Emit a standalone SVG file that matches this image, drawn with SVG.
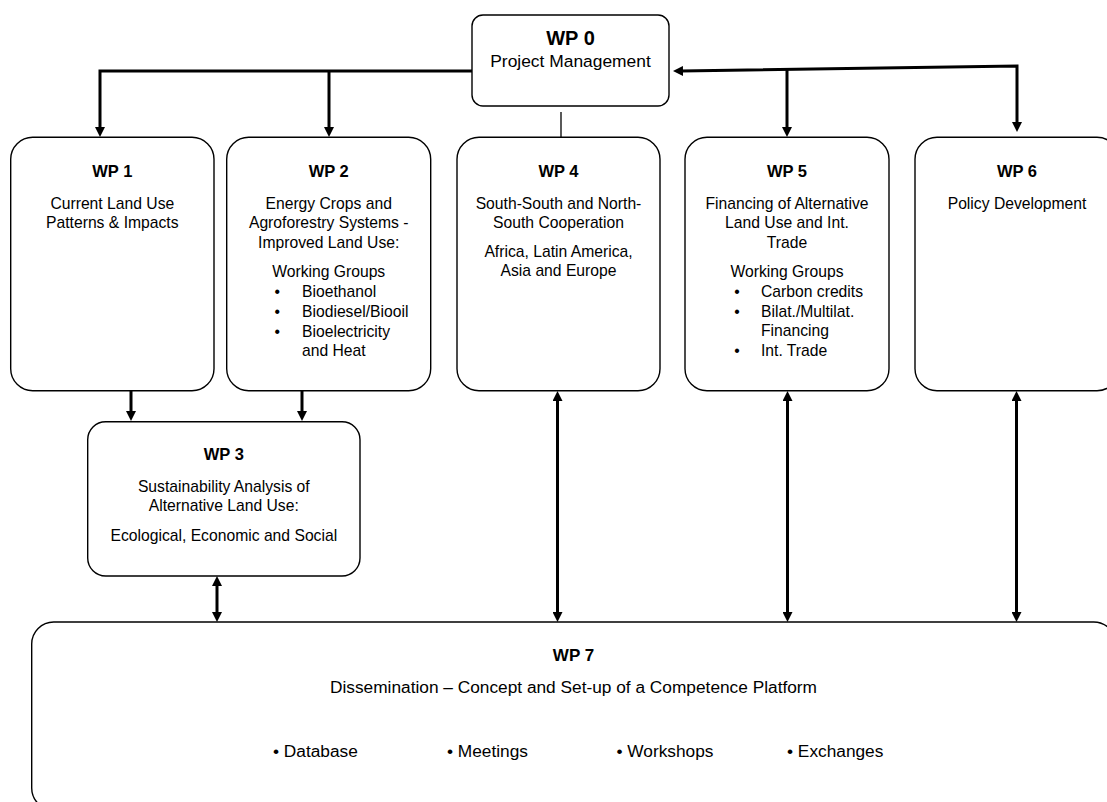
<svg xmlns="http://www.w3.org/2000/svg" width="1107" height="802" viewBox="0 0 1107 802">
<style>
.box{fill:#fff;stroke:#000;stroke-width:1.4}
text{font-family:"Liberation Sans",Arial,sans-serif;fill:#000}
.t{font-size:16.5px;font-weight:bold;text-anchor:middle}
.b{font-size:15.7px;text-anchor:middle}
.l{font-size:15.7px}
.c{fill:none;stroke:#000;stroke-width:3}
.thin{fill:none;stroke:#000;stroke-width:1.3}
</style>
<defs>
<marker id="ah" viewBox="0 0 10 10" refX="2" refY="5" markerWidth="10" markerHeight="10" markerUnits="userSpaceOnUse" orient="auto-start-reverse">
<path d="M0,0 L10,5 L0,10 z" fill="#000"/>
</marker>
</defs>
<rect width="1107" height="802" fill="#fff"/>
<g id="connectors">
<path class="c" d="M472,71 H100 V129" marker-end="url(#ah)"/>
<path class="c" d="M329,71 V129" marker-end="url(#ah)"/>
<path class="c" d="M681,71 L1017,66 V124" marker-start="url(#ah)" marker-end="url(#ah)"/>
<path class="c" d="M787,69.5 V129" marker-end="url(#ah)"/>
<path class="thin" d="M561,112 V137"/>
<path class="c" d="M131,391 V413" marker-end="url(#ah)"/>
<path class="c" d="M302,391 V413" marker-end="url(#ah)"/>
<path class="c" d="M217,584 V614" marker-start="url(#ah)" marker-end="url(#ah)"/>
<path class="c" d="M557.5,399 V614" marker-start="url(#ah)" marker-end="url(#ah)"/>
<path class="c" d="M787.5,399 V614" marker-start="url(#ah)" marker-end="url(#ah)"/>
<path class="c" d="M1016.5,399 V614" marker-start="url(#ah)" marker-end="url(#ah)"/>
</g>
<g id="wp0">
<rect class="box" x="472" y="15" width="197" height="91" rx="11"/>
<text x="570.5" y="45" style="font-size:20px;font-weight:bold;text-anchor:middle">WP 0</text>
<text x="570.5" y="66.7" style="font-size:17.4px;text-anchor:middle">Project Management</text>
</g>
<g id="wp1">
<rect class="box" x="10.7" y="137.3" width="203.3" height="253.4" rx="22"/>
<text class="t" x="112.3" y="177">WP 1</text>
<text class="b" x="112.3" y="209">Current Land Use</text>
<text class="b" x="112.3" y="228.3">Patterns &amp; Impacts</text>
</g>
<g id="wp2">
<rect class="box" x="226.7" y="137.3" width="204" height="253.4" rx="22"/>
<text class="t" x="328.7" y="177">WP 2</text>
<text class="b" x="328.7" y="209">Energy Crops and</text>
<text class="b" x="328.7" y="228.3">Agroforestry Systems -</text>
<text class="b" x="328.7" y="247.6">Improved Land Use:</text>
<text class="b" x="328.7" y="277">Working Groups</text>
<text class="b" x="277.3" y="297">•</text><text class="l" x="302" y="297">Bioethanol</text>
<text class="b" x="277.3" y="317">•</text><text class="l" x="302" y="317">Biodiesel/Biooil</text>
<text class="b" x="277.3" y="337">•</text><text class="l" x="302" y="337">Bioelectricity</text>
<text class="l" x="302" y="356">and Heat</text>
</g>
<g id="wp3">
<rect class="box" x="87.7" y="421.7" width="272.3" height="154.3" rx="18"/>
<text class="t" x="223.8" y="460">WP 3</text>
<text class="b" x="223.8" y="491.5">Sustainability Analysis of</text>
<text class="b" x="223.8" y="510.7">Alternative Land Use:</text>
<text class="b" x="223.8" y="540.5">Ecological, Economic and Social</text>
</g>
<g id="wp4">
<rect class="box" x="457" y="137.3" width="203" height="253.4" rx="22"/>
<text class="t" x="558.5" y="177">WP 4</text>
<text class="b" x="558.5" y="209">South-South and North-</text>
<text class="b" x="558.5" y="228.3">South Cooperation</text>
<text class="b" x="558.5" y="257">Africa, Latin America,</text>
<text class="b" x="558.5" y="276.3">Asia and Europe</text>
</g>
<g id="wp5">
<rect class="box" x="685" y="137.3" width="204" height="253.4" rx="22"/>
<text class="t" x="787" y="177">WP 5</text>
<text class="b" x="787" y="209">Financing of Alternative</text>
<text class="b" x="787" y="228.3">Land Use and Int.</text>
<text class="b" x="787" y="247.6">Trade</text>
<text class="b" x="787" y="277">Working Groups</text>
<text class="b" x="737" y="297">•</text><text class="l" x="761" y="297">Carbon credits</text>
<text class="b" x="737" y="317">•</text><text class="l" x="761" y="317">Bilat./Multilat.</text>
<text class="l" x="761" y="336.3">Financing</text>
<text class="b" x="737" y="356">•</text><text class="l" x="761" y="356">Int. Trade</text>
</g>
<g id="wp6">
<rect class="box" x="915" y="137.3" width="204" height="253.4" rx="22"/>
<text class="t" x="1017" y="177">WP 6</text>
<text class="b" x="1017" y="209">Policy Development</text>
</g>
<g id="wp7">
<rect class="box" x="31.7" y="622" width="1084" height="188" rx="22"/>
<text x="573.5" y="661" style="font-size:17px;font-weight:bold;text-anchor:middle">WP 7</text>
<text x="573.5" y="693" style="font-size:17.3px;text-anchor:middle">Dissemination – Concept and Set-up of a Competence Platform</text>
<text x="273" y="757" style="font-size:17.3px">• Database</text>
<text x="447" y="757" style="font-size:17.3px">• Meetings</text>
<text x="616.5" y="757" style="font-size:17.3px">• Workshops</text>
<text x="787" y="757" style="font-size:17.3px">• Exchanges</text>
</g>
</svg>
